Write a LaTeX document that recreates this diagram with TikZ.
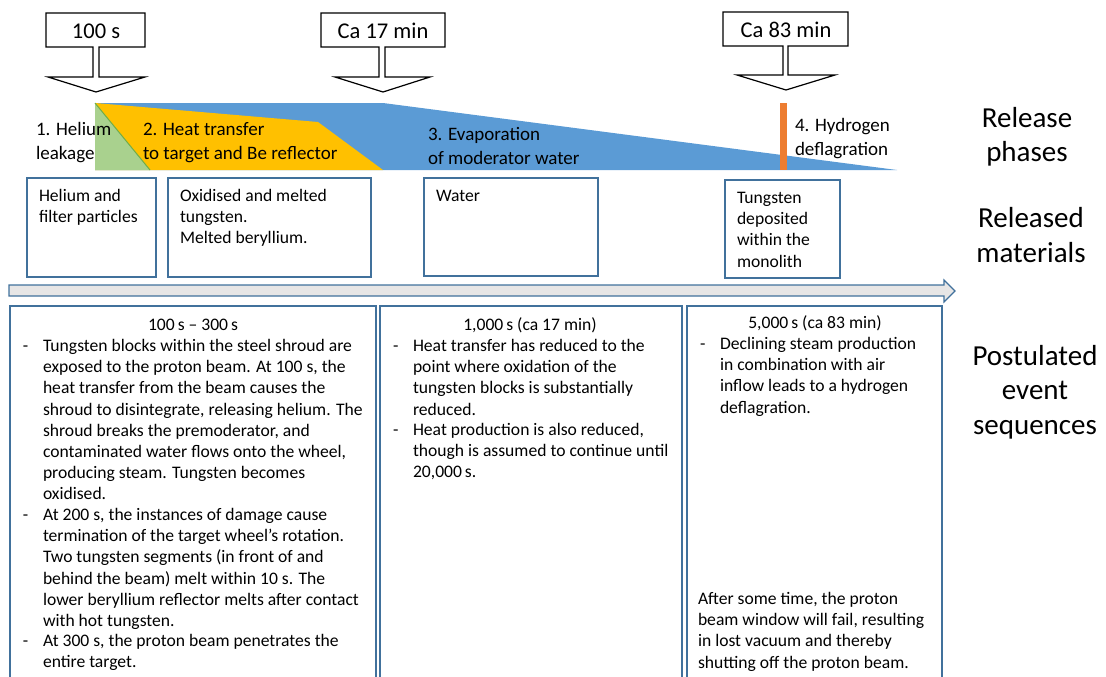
\documentclass[tikz,border=0pt]{standalone}
\usepackage{fontspec}
\setmainfont{Carlito}
\definecolor{cblue}{RGB}{91,155,213}
\definecolor{cyel}{RGB}{255,192,0}
\definecolor{cgreen}{RGB}{169,209,142}
\definecolor{cgreenD}{RGB}{112,173,71}
\definecolor{corange}{RGB}{237,125,49}
\definecolor{cedge}{RGB}{65,113,156}
\definecolor{cgray}{RGB}{231,230,230}
\begin{document}
\begin{tikzpicture}[x=1pt,y=-1pt,
  every node/.style={inner sep=0pt,outer sep=0pt},
  callout/.style={draw=black,line width=1.2pt,fill=white,line join=miter},
  calltext/.style={font=\fontsize{22.5}{26}\selectfont},
  phasetext/.style={font=\fontsize{19}{24}\selectfont,align=left,anchor=north west},
  matbox/.style={draw=cedge,line width=1.2pt,fill=white},
  bodytext/.style={font=\fontsize{17.6}{21.1}\selectfont,align=left,anchor=north west},
  titletext/.style={font=\fontsize{17.6}{21.1}\selectfont},
  sidetext/.style={font=\fontsize{29}{34.5}\selectfont,align=center}]
\useasboundingbox (0,0) rectangle (1106,677);
\clip (0,0) rectangle (1106,677);

% release phase shapes
\fill[cblue] (95,103) -- (383,103) -- (897,170) -- (95,170) -- cycle;
\fill[cyel] (95,103) -- (318,122) -- (383,170) -- (95,170) -- cycle;
\fill[cgreen] (95,103) -- (95,170) -- (150,170) -- cycle;
\draw[cgreenD,line width=1pt] (95,103) -- (150,170);
\fill[corange] (780,103) rectangle (787,170);

% callouts
\draw[callout] (46,13) -- (145,13) -- (145,47) -- (99,47) -- (99,77) -- (145,77) -- (96,92) -- (48,77) -- (93,77) -- (93,47) -- (46,47) -- cycle;
\node[calltext] (c1) at (96,31) {100 s};
\draw[callout] (321,13) -- (445,13) -- (445,47) -- (385,47) -- (385,77) -- (430,77) -- (383,92) -- (335,77) -- (379,77) -- (379,47) -- (321,47) -- cycle;
\node[calltext] (c2) at (383,31) {Ca 17 min};
\draw[callout] (723,12) -- (848,12) -- (848,46) -- (788,46) -- (788,75) -- (835,75) -- (786,90) -- (737,75) -- (783,75) -- (783,46) -- (723,46) -- cycle;
\node[calltext] (c3) at (786,30) {Ca 83 min};

% phase labels
\node[phasetext] (p1) at (36,119) {\strut 1. Helium\\leakage};
\node[phasetext] (p2) at (143,119) {\strut 2. Heat transfer\\to target and Be reflector};
\node[phasetext] (p3) at (428,124) {\strut 3. Evaporation\\of moderator water};
\node[phasetext] (p4) at (795,115) {\strut 4. Hydrogen\\deflagration};

% released materials
\draw[matbox] (27,178) rectangle (156,277);
\node[bodytext] (m1) at (39,187) {\strut Helium and\\filter particles};
\draw[matbox] (168,178) rectangle (371,277);
\node[bodytext] (m2) at (180,187) {\strut Oxidised and melted\\tungsten.\\Melted beryllium.};
\draw[matbox] (424,178) rectangle (598,276);
\node[bodytext] (m3) at (436,187) {\strut Water};
\draw[matbox] (725,180) rectangle (840,278);
\node[bodytext] (m4) at (737,189) {\strut Tungsten\\deposited\\within the\\monolith};

% timeline arrow
\draw[draw=cedge,fill=cgray,line width=1.2pt,line join=miter] (9,285) -- (944,285) -- (944,280) -- (955,291) -- (944,302) -- (944,296) -- (9,296) -- cycle;

% event sequence boxes
\draw[matbox] (10,306) rectangle (376,700);
\node[titletext] (t1) at (193,325) {100\,s -- 300\,s};
\node[bodytext] (d1a) at (23,337) {\strut -};
\node[bodytext] (b1a) at (43,337) {\strut Tungsten blocks within the steel shroud are\\exposed to the proton beam. At 100 s, the\\heat transfer from the beam causes the\\shroud to disintegrate, releasing helium. The\\shroud breaks the premoderator, and\\contaminated water flows onto the wheel,\\producing steam. Tungsten becomes\\oxidised.};
\node[bodytext] (d1b) at (23,506) {\strut -};
\node[bodytext] (b1b) at (43,506) {\strut At 200 s, the instances of damage cause\\termination of the target wheel’s rotation.\\Two tungsten segments (in front of and\\behind the beam) melt within 10 s. The\\lower beryllium reflector melts after contact\\with hot tungsten.};
\node[bodytext] (d1c) at (23,632) {\strut -};
\node[bodytext] (b1c) at (43,632) {\strut At 300 s, the proton beam penetrates the\\entire target.};

\draw[matbox] (380,306) rectangle (682,700);
\node[titletext] (t2) at (530,325) {1,000\,s (ca 17 min)};
\node[bodytext] (d2a) at (393,337) {\strut -};
\node[bodytext] (b2a) at (413,337) {\strut Heat transfer has reduced to the\\point where oxidation of the\\tungsten blocks is substantially\\reduced.};
\node[bodytext] (d2b) at (393,421) {\strut -};
\node[bodytext] (b2b) at (413,421) {\strut Heat production is also reduced,\\though is assumed to continue until\\20,000\,s.};

\draw[matbox] (687,306) rectangle (942,700);
\node[titletext] (t3) at (815,323) {5,000\,s (ca 83 min)};
\node[bodytext] (d3a) at (700,335) {\strut -};
\node[bodytext] (b3a) at (720,335) {\strut Declining steam production\\in combination with air\\inflow leads to a hydrogen\\deflagration.};
\node[bodytext] (b3b) at (698,590) {\strut After some time, the proton\\beam window will fail, resulting\\in lost vacuum and thereby\\shutting off the proton beam.};

% side labels
\node[sidetext] (s1) at (1027,137) {Release\\phases};
\node[sidetext] (s2) at (1031,235) {Released\\materials};
\node[sidetext] (s3) at (1035,392) {Postulated\\event\\sequences};
\end{tikzpicture}
\end{document}
